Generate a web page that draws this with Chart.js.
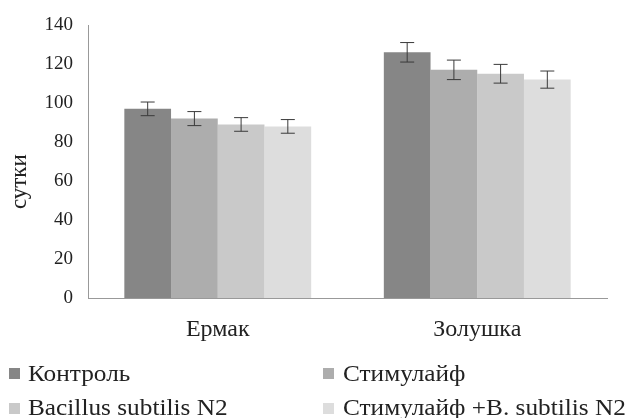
<!DOCTYPE html>
<html>
<head>
<meta charset="utf-8">
<script src="https://cdn.jsdelivr.net/npm/chart.js@4.4.1/dist/chart.umd.min.js"></script>
<style>
    body { margin: 0; background: #fff; width: 632px; height: 418px; overflow: hidden; }
    #wrap { position: relative; width: 632px; height: 350px; }
    #legend { position: absolute; left: 0; top: 0; width: 632px; height: 418px; }
    .txt { position: absolute; font-family: 'Liberation Serif', serif; font-size: 23px; line-height: 23px; color: #222; white-space: nowrap; transform: scaleX(1.1); transform-origin: left top; }
    .box { position: absolute; width: 11px; height: 11px; }
</style>
</head>
<body>
<div id="wrap"><canvas id="chart" width="632" height="350"></canvas></div>
<div id="legend"></div>
<script>
const categories = ['Ермак', 'Золушка'];
const seriesNames = ['Контроль', 'Стимулайф', 'Bacillus subtilis N2', 'Стимулайф +B. subtilis N2'];
const seriesColors = ['#868686', '#adadad', '#c9c9c9', '#dddddd'];
const control = [97, 126];
const stimulife = [92, 117];
const bacillus = [89, 115];
const combined = [88, 112];
const control_err = [3.5, 5];
const stimulife_err = [3.6, 5];
const bacillus_err = [3.5, 4.8];
const combined_err = [3.5, 4.4];
const yTicks = [0, 20, 40, 60, 80, 100, 120, 140];

const values = [control, stimulife, bacillus, combined];
const errors = [control_err, stimulife_err, bacillus_err, combined_err];

Chart.defaults.font.family = "'Liberation Serif', serif";
Chart.defaults.color = '#222';

// error bars drawn on top of the bars
const errorBars = {
    id: 'errorBars',
    afterDatasetsDraw(chart) {
        const ctx = chart.ctx;
        const y = chart.scales.y;
        ctx.save();
        ctx.strokeStyle = '#3a3a3a';
        ctx.lineWidth = 1;
        chart.data.datasets.forEach((ds, i) => {
            chart.getDatasetMeta(i).data.forEach((bar, j) => {
                const v = ds.data[j], e = errors[i][j];
                const top = y.getPixelForValue(v + e);
                const bot = y.getPixelForValue(v - e);
                ctx.beginPath();
                ctx.moveTo(bar.x, top); ctx.lineTo(bar.x, bot);
                ctx.moveTo(bar.x - 7, top); ctx.lineTo(bar.x + 7, top);
                ctx.moveTo(bar.x - 7, bot); ctx.lineTo(bar.x + 7, bot);
                ctx.stroke();
            });
        });
        ctx.restore();
    }
};

new Chart(document.getElementById('chart'), {
    type: 'bar',
    data: {
        labels: categories,
        datasets: seriesNames.map((name, i) => ({
            label: name,
            data: values[i],
            backgroundColor: seriesColors[i],
            borderWidth: 0,
            categoryPercentage: 0.72,
            barPercentage: 1
        }))
    },
    options: {
        responsive: false,
        animation: false,
        layout: { padding: { top: 25, right: 25, left: 0, bottom: 0 } },
        plugins: { legend: { display: false }, tooltip: { enabled: false } },
        scales: {
            x: {
                grid: { display: false, drawTicks: false },
                border: { color: '#999' },
                ticks: { font: { size: 24 }, padding: 17 },
                afterFit: s => { s.height = 52; }
            },
            y: {
                min: 0,
                max: 140,
                afterBuildTicks: s => { s.ticks = yTicks.map(v => ({ value: v })); },
                grid: { display: false, drawTicks: true, tickLength: 6, tickColor: '#999' },
                border: { color: '#999' },
                ticks: { font: { size: 19 }, padding: 9 },
                // trailing spaces push the rotated word a bit lower, as in the original
                title: { display: true, text: 'сутки       ', font: { size: 23 }, padding: { top: 6, bottom: 0 } },
                afterFit: s => { s.width = 88; }
            }
        }
    },
    plugins: [errorBars]
});

// legend in two columns, like the original
const legend = document.getElementById('legend');
const boxPos = [[9, 368], [323, 368], [9, 403], [323, 403]];
const textPos = [[28, 362], [343, 362], [28, 396], [343, 396]];
seriesNames.forEach((name, i) => {
    const b = document.createElement('div');
    b.className = 'box';
    b.style.left = boxPos[i][0] + 'px';
    b.style.top = boxPos[i][1] + 'px';
    b.style.background = seriesColors[i];
    legend.appendChild(b);
    const t = document.createElement('div');
    t.className = 'txt';
    t.style.left = textPos[i][0] + 'px';
    t.style.top = textPos[i][1] + 'px';
    t.textContent = name;
    legend.appendChild(t);
});
</script>
</body>
</html>
